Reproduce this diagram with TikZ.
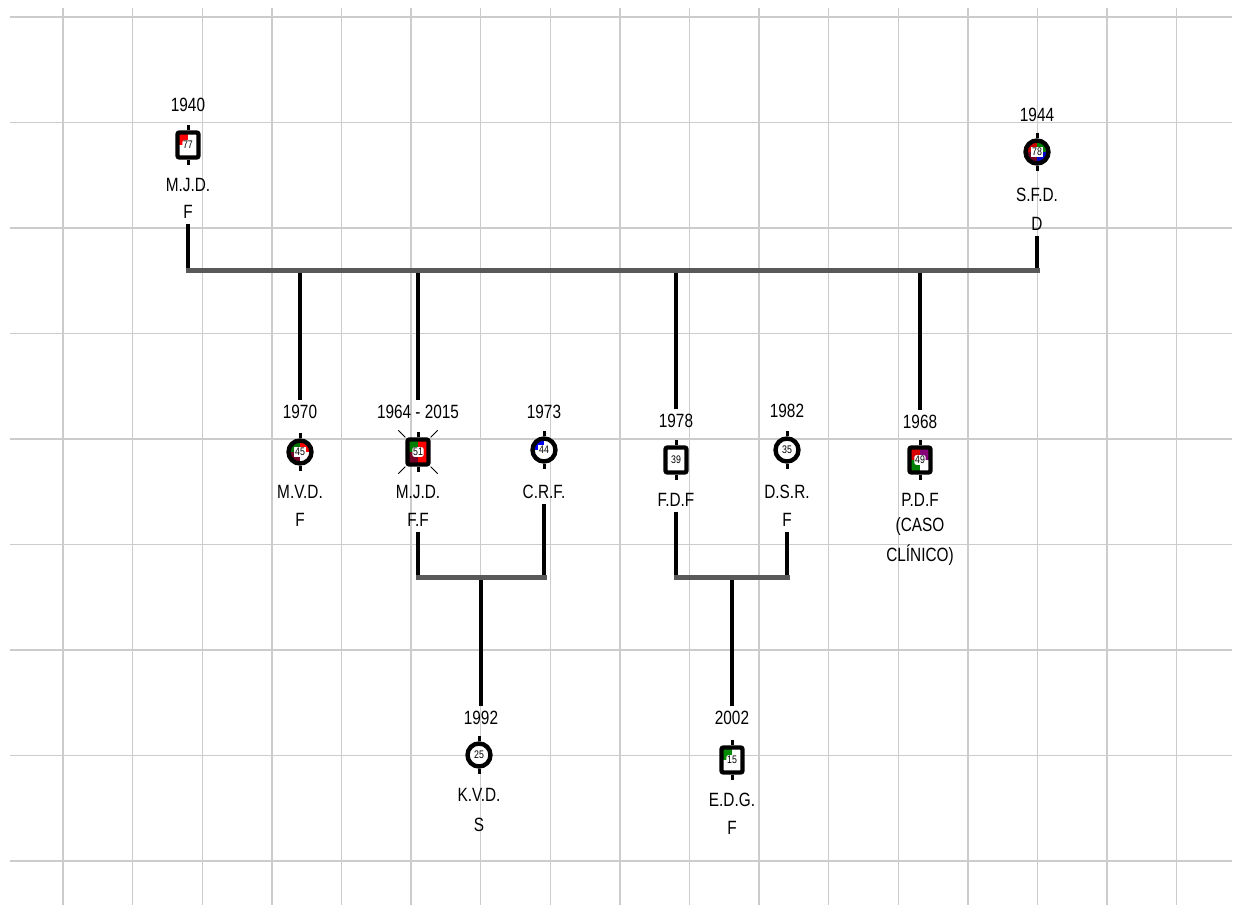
\documentclass[tikz,border=0pt]{standalone}
\usepackage{fontspec}
\setmainfont[FakeStretch=0.8]{Liberation Sans}
\begin{document}
\begin{tikzpicture}[x=0.5pt,y=-0.5pt,
	txt/.style={font=\fontsize{9.6}{10}\selectfont,inner sep=0pt,outer sep=2.5pt},
	sym/.style={draw,line width=2.2pt,fill=white,inner sep=0pt,font=\fontsize{5.5}{5.5}\selectfont},
	male/.style={sym,rounded corners=1pt,minimum width=10.5pt,minimum height=12.5pt},
	fem/.style={sym,circle,minimum size=11.5pt},
	quads/.style n args={4}{path picture={
		\fill[#1] (path picture bounding box.center) rectangle (path picture bounding box.north west);
		\fill[#2] (path picture bounding box.center) rectangle (path picture bounding box.north east);
		\fill[#3] (path picture bounding box.center) rectangle (path picture bounding box.south west);
		\fill[#4] (path picture bounding box.center) rectangle (path picture bounding box.south east);
		\fill[white] ([shift={(-2.8pt,-2.4pt)}]path picture bounding box.center) rectangle ([shift={(2.8pt,2.4pt)}]path picture bounding box.center);}},
	link/.style={line width=2pt},
	bar/.style={line width=2.5pt,line cap=rect,gray!70!black}]
	\useasboundingbox (0,0) rectangle (1239,905);
	\foreach \k in {0,...,16} \draw[gray!40,line width=0.7pt] ({63+69.6*\k},8) -- ({63+69.6*\k},905);
	\foreach \k in {0,...,8} \draw[gray!40,line width=0.7pt] (10,{17+105.5*\k}) -- (1232,{17+105.5*\k});

	\node[txt] (gfy) at (188,105) {1940};
	\node[male,quads={red}{white}{white}{white}] (gf) at (188,145) {77};
	\node[txt] (gfn) at (188,185) {M.J.D.};
	\node[txt] (gfs) at (188,212) {F};

	\node[txt] (gmy) at (1037,115) {1944};
	\node[fem,quads={red!80!black}{green!50!black}{purple!60!black}{blue!80!black}] (gm) at (1037,152) {78};
	\node[txt] (gmn) at (1037,195) {S.F.D.};
	\node[txt] (gms) at (1037,224) {D};

	\node[txt] (c1y) at (300,412) {1970};
	\node[fem,quads={green!45!black}{red}{purple!60!black}{white}] (c1) at (300,452) {45};
	\node[txt] (c1n) at (300,492) {M.V.D.};
	\node[txt] (c1s) at (300,520) {F};

	\node[txt] (c2y) at (418,412) {1964 - 2015};
	\node[male,quads={green!50!black}{red}{purple!60!black}{red}] (c2) at (418,452) {51};
	\node[txt] (c2n) at (418,492) {M.J.D.};
	\node[txt] (c2s) at (418,520) {F.F};
	\draw[line width=0.5pt] (c2.north west) -- ++(-7,-7) (c2.north east) -- ++(7,-7)
		(c2.south west) -- ++(-7,7) (c2.south east) -- ++(7,7);

	\node[txt] (s2y) at (544,412) {1973};
	\node[fem,quads={blue}{white}{white}{white}] (s2) at (544,450) {44};
	\node[txt] (s2n) at (544,492) {C.R.F.};

	\node[txt] (c3y) at (676,421) {1978};
	\node[male] (c3) at (676,460) {39};
	\node[txt] (c3n) at (676,500) {F.D.F};

	\node[txt] (s3y) at (787,411) {1982};
	\node[fem] (s3) at (787,450) {35};
	\node[txt] (s3n) at (787,492) {D.S.R.};
	\node[txt] (s3s) at (787,520) {F};

	\node[txt] (c4y) at (920,422) {1968};
	\node[male,quads={red!85!black}{purple!70!blue}{green!50!black}{white}] (c4) at (920,460) {49};
	\node[txt] (c4n) at (920,500) {P.D.F};
	\node[txt] (c4a) at (920,527) {(CASO};
	\node[txt] (c4b) at (920,555) {CLÍNICO)};

	\node[txt] (g1y) at (481,718) {1992};
	\node[fem] (g1) at (479,755) {25};
	\node[txt] (g1n) at (479,795) {K.V.D.};
	\node[txt] (g1s) at (479,825) {S};

	\node[txt] (g2y) at (732,718) {2002};
	\node[male,quads={green!55!black}{white}{white}{white}] (g2) at (732,760) {15};
	\node[txt] (g2n) at (732,800) {E.D.G.};
	\node[txt] (g2s) at (732,828) {F};

	\foreach \p in {gf,gm,c1,c2,s2,c3,s3,c4,g1,g2}
		\draw[line width=1.5pt] (\p.north) -- ++(0,-5) (\p.south) -- ++(0,5);

	\coordinate (top) at (0,270);
	\coordinate (m2) at (0,577);
	\draw[link] (gfs.south) -- (gfs.south |- top);
	\draw[link] (gms.south) -- (gms.south |- top);
	\draw[link] (c1y.north) -- (c1y.north |- top);
	\draw[link] (c2y.north) -- (c2y.north |- top);
	\draw[link] (c3y.north) -- (c3y.north |- top);
	\draw[link] (c4y.north) -- (c4y.north |- top);
	\draw[bar] (gfs.south |- top) -- (gms.south |- top);

	\draw[link] (c2s.south) -- (c2s.south |- m2);
	\draw[link] (s2n.south) -- (s2n.south |- m2);
	\draw[link] (g1y.north) -- (g1y.north |- m2);
	\draw[bar] (c2s.south |- m2) -- (s2n.south |- m2);

	\draw[link] (c3n.south) -- (c3n.south |- m2);
	\draw[link] (s3s.south) -- (s3s.south |- m2);
	\draw[link] (g2y.north) -- (g2y.north |- m2);
	\draw[bar] (c3n.south |- m2) -- (s3s.south |- m2);
\end{tikzpicture}
\end{document}
